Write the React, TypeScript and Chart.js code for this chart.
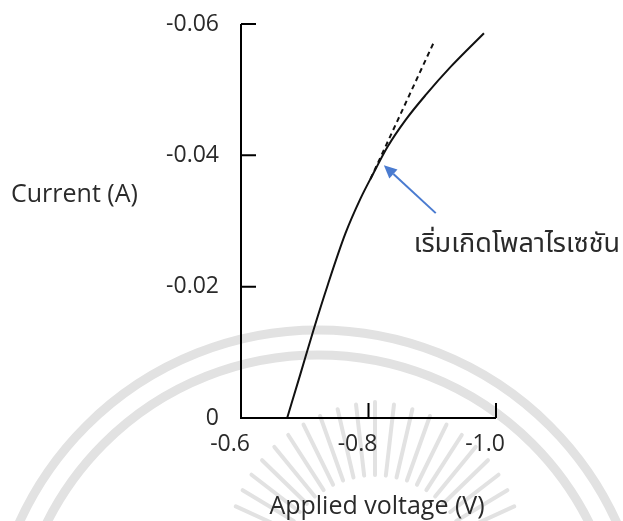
import React, { useEffect, useRef } from "react";
import { Chart, registerables } from "chart.js";

Chart.register(...registerables);

// ---- data ----
const curveVoltage = [-0.6724, -0.6929, -0.7134, -0.7362, -0.7638, -0.7874, -0.8079, -0.8299, -0.8583, -0.8898, -0.9291, -0.9811];
const curveCurrent = [0, -0.0066, -0.0133, -0.0203, -0.0281, -0.0334, -0.0373, -0.0413, -0.0454, -0.0492, -0.0535, -0.0586];
const tangentVoltage = [-0.8031, -0.9024];
const tangentCurrent = [-0.0364, -0.0572];
const xTickValues = [-0.6, -0.8, -1.0];
const yTickValues = [0, -0.02, -0.04, -0.06];
const xTickLabels = ["-0.6", "-0.8", "-1.0"];
const yTickLabels = ["0", "-0.02", "-0.04", "-0.06"];
const arrowTail = [-0.9055, -0.0312];
const arrowHead = [-0.8241, -0.0385];
const annotationPos = [-0.8709, -0.0261];
const annotationText = "เริ่มเกิดโพลาไรเซชัน";
const xTitle = "Applied voltage (V)";
const yTitle = "Current (A)";

const W = 623;
const H = 521;
const FONT = "'Open Sans', 'Noto Sans', sans-serif";
const THAI_FONT = "'Noto Sans Thai', 'Noto Sans Thai UI', 'Open Sans', sans-serif";
const TEXT_COLOR = "#2a2a2a";

const watermarkPlugin = {
  id: "watermark",
  beforeDraw(chart: any) {
    const ctx = chart.ctx;
    ctx.save();
    ctx.fillStyle = "#fff";
    ctx.fillRect(0, 0, W, H);
    ctx.strokeStyle = "#e2e2e2";
    ctx.lineCap = "round";
    ctx.lineWidth = 9;
    ctx.beginPath();
    ctx.arc(318, 658, 328, Math.PI, 2 * Math.PI);
    ctx.stroke();
    ctx.beginPath();
    ctx.arc(318, 658, 303, Math.PI, 2 * Math.PI);
    ctx.stroke();
    ctx.lineWidth = 4;
    const cx = 375, cy = 570;
    for (let i = 0; i <= 22; i++) {
      const a = Math.PI * (1.1 + (0.8 * i) / 22);
      const r0 = 95, r1 = 168 - Math.abs(i - 11) * 1.5;
      ctx.beginPath();
      ctx.moveTo(cx + r0 * Math.cos(a), cy + r0 * Math.sin(a));
      ctx.lineTo(cx + r1 * Math.cos(a), cy + r1 * Math.sin(a));
      ctx.stroke();
    }
    ctx.restore();
  },
};

const axesPlugin = {
  id: "customAxes",
  afterDatasetsDraw(chart: any) {
    const ctx = chart.ctx;
    const xs = chart.scales.x;
    const ys = chart.scales.y;
    const x0 = xs.getPixelForValue(xTickValues[0]);
    const x1 = xs.getPixelForValue(xTickValues[xTickValues.length - 1]);
    const y0 = ys.getPixelForValue(yTickValues[0]);
    const y1 = ys.getPixelForValue(yTickValues[yTickValues.length - 1]);
    ctx.save();
    ctx.strokeStyle = "#000";
    ctx.lineWidth = 2;
    ctx.lineCap = "butt";
    ctx.beginPath();
    ctx.moveTo(x0, y1);
    ctx.lineTo(x0, y0);
    ctx.lineTo(x1, y0);
    ctx.stroke();
    const tl = 15;
    ctx.beginPath();
    for (let i = 1; i < xTickValues.length; i++) {
      const px = xs.getPixelForValue(xTickValues[i]);
      ctx.moveTo(px, y0);
      ctx.lineTo(px, y0 - tl);
    }
    for (let i = 1; i < yTickValues.length; i++) {
      const py = ys.getPixelForValue(yTickValues[i]);
      ctx.moveTo(x0, py);
      ctx.lineTo(x0 + tl, py);
    }
    ctx.stroke();

    // arrow
    const tx = xs.getPixelForValue(arrowTail[0]);
    const ty = ys.getPixelForValue(arrowTail[1]);
    const hx = xs.getPixelForValue(arrowHead[0]);
    const hy = ys.getPixelForValue(arrowHead[1]);
    const ang = Math.atan2(hy - ty, hx - tx);
    const hl = 13, hw = 6;
    const bx = hx - hl * Math.cos(ang);
    const by = hy - hl * Math.sin(ang);
    ctx.strokeStyle = "#4a7bd0";
    ctx.fillStyle = "#4a7bd0";
    ctx.lineWidth = 2;
    ctx.beginPath();
    ctx.moveTo(tx, ty);
    ctx.lineTo(bx, by);
    ctx.stroke();
    ctx.beginPath();
    ctx.moveTo(hx, hy);
    ctx.lineTo(bx + hw * Math.sin(ang), by - hw * Math.cos(ang));
    ctx.lineTo(bx - hw * Math.sin(ang), by + hw * Math.cos(ang));
    ctx.closePath();
    ctx.fill();

    // annotation text
    ctx.fillStyle = TEXT_COLOR;
    ctx.font = "27px " + THAI_FONT;
    ctx.textAlign = "left";
    ctx.textBaseline = "middle";
    ctx.fillText(annotationText, xs.getPixelForValue(annotationPos[0]), ys.getPixelForValue(annotationPos[1]));

    // axis titles
    ctx.font = "25px " + FONT;
    ctx.textAlign = "left";
    ctx.fillText(yTitle, 11, 195);
    ctx.textAlign = "center";
    ctx.fillText(xTitle, 377, 507);
    ctx.restore();
  },
};

export default function App() {
  const ref = useRef<HTMLCanvasElement | null>(null);
  useEffect(() => {
    if (!ref.current) return;
    const chart = new Chart(ref.current, {
      type: "line",
      data: {
        datasets: [
          {
            data: curveVoltage.map((v, i) => ({ x: v, y: curveCurrent[i] })),
            borderColor: "#111",
            borderWidth: 2,
            pointRadius: 0,
            tension: 0.4,
            cubicInterpolationMode: "monotone",
          },
          {
            data: tangentVoltage.map((v, i) => ({ x: v, y: tangentCurrent[i] })),
            borderColor: "#111",
            borderWidth: 2,
            borderDash: [5, 4],
            pointRadius: 0,
          },
        ],
      },
      options: {
        animation: false,
        responsive: false,
        maintainAspectRatio: false,
        layout: { autoPadding: false, padding: { left: 0, right: 127, top: 24, bottom: 0 } },
        plugins: { legend: { display: false }, tooltip: { enabled: false }, title: { display: false } },
        scales: {
          x: {
            type: "linear",
            reverse: true,
            min: -1.0,
            max: -0.6,
            border: { display: false },
            grid: { display: false, drawTicks: false },
            afterBuildTicks: (s: any) => {
              s.ticks = xTickValues.map((v) => ({ value: v }));
            },
            afterFit: (s: any) => {
              s.height = 103;
              s.paddingLeft = 0;
              s.paddingRight = 0;
            },
            ticks: {
              padding: 13,
              labelOffset: -11,
              maxRotation: 0,
              autoSkip: false,
              color: TEXT_COLOR,
              font: { family: FONT, size: 23 },
              callback: (v: any) => {
                const i = xTickValues.findIndex((t) => Math.abs(t - v) < 1e-9);
                return i >= 0 ? xTickLabels[i] : "";
              },
            },
          },
          y: {
            type: "linear",
            reverse: true,
            min: -0.06,
            max: 0,
            border: { display: false },
            grid: { display: false, drawTicks: false },
            afterBuildTicks: (s: any) => {
              s.ticks = yTickValues.map((v) => ({ value: v }));
            },
            afterFit: (s: any) => {
              s.width = 241;
              s.paddingTop = 0;
              s.paddingBottom = 0;
            },
            ticks: {
              padding: 22,
              autoSkip: false,
              color: TEXT_COLOR,
              font: { family: FONT, size: 23 },
              callback: (v: any) => {
                const i = yTickValues.findIndex((t) => Math.abs(t - v) < 1e-9);
                return i >= 0 ? yTickLabels[i] : "";
              },
            },
          },
        },
      },
      plugins: [watermarkPlugin, axesPlugin],
    } as any);
    return () => chart.destroy();
  }, []);
  return (
    <div style={{ position: "fixed", left: 0, top: 0, width: W, height: H, background: "#fff" }}>
      <canvas ref={ref} width={W} height={H} style={{ width: W, height: H, display: "block" }} />
    </div>
  );
}
